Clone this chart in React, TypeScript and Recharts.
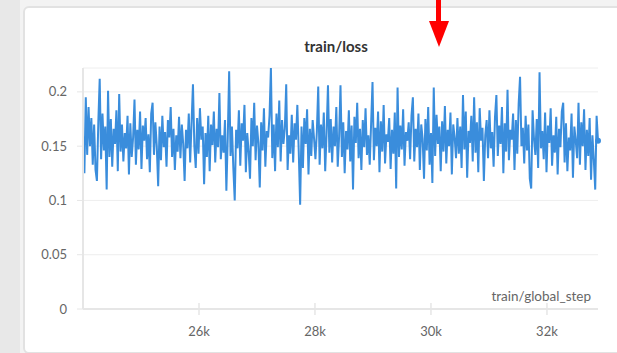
import React from 'react';
import { CartesianGrid, Line, LineChart, XAxis, YAxis } from 'recharts';

// logged every 24 steps starting at 24k
const startStep = 24000;
const stepSize = 24;

const lossValues = [
  0.160, 0.125, 0.195, 0.142, 0.186, 0.150, 0.176, 0.133, 0.170, 0.128,
  0.118, 0.172, 0.212, 0.138, 0.180, 0.146, 0.168, 0.110, 0.201, 0.140,
  0.175, 0.131, 0.166, 0.152, 0.183, 0.127, 0.198, 0.145, 0.170, 0.136,
  0.162, 0.148, 0.178, 0.124, 0.171, 0.140, 0.158, 0.193, 0.133, 0.165,
  0.147, 0.182, 0.129, 0.169, 0.155, 0.176, 0.138, 0.161, 0.126, 0.180,
  0.190, 0.142, 0.172, 0.150, 0.113, 0.168, 0.137, 0.178, 0.149, 0.163,
  0.131, 0.174, 0.158, 0.186, 0.140, 0.166, 0.128, 0.160, 0.145, 0.177,
  0.139, 0.170, 0.152, 0.118, 0.165, 0.148, 0.180, 0.135, 0.172, 0.207,
  0.150, 0.130, 0.176, 0.143, 0.185, 0.156, 0.168, 0.115, 0.162, 0.140,
  0.178, 0.127, 0.170, 0.151, 0.182, 0.135, 0.166, 0.149, 0.199, 0.138,
  0.160, 0.144, 0.174, 0.109, 0.158, 0.219, 0.141, 0.168, 0.130, 0.100,
  0.165, 0.148, 0.183, 0.132, 0.171, 0.155, 0.188, 0.126, 0.162, 0.145,
  0.120, 0.176, 0.150, 0.190, 0.137, 0.169, 0.153, 0.112, 0.172, 0.146,
  0.185, 0.131, 0.164, 0.158, 0.178, 0.222, 0.139, 0.170, 0.127, 0.180,
  0.149, 0.192, 0.136, 0.174, 0.152, 0.166, 0.207, 0.128, 0.160, 0.143,
  0.179, 0.135, 0.171, 0.156, 0.188, 0.145, 0.096, 0.168, 0.130, 0.176,
  0.152, 0.184, 0.124, 0.166, 0.141, 0.174, 0.157, 0.138, 0.163, 0.205,
  0.133, 0.170, 0.148, 0.181, 0.127, 0.162, 0.206, 0.144, 0.175, 0.135,
  0.168, 0.150, 0.186, 0.131, 0.159, 0.206, 0.140, 0.172, 0.125, 0.164,
  0.147, 0.183, 0.136, 0.169, 0.110, 0.177, 0.153, 0.190, 0.139, 0.166,
  0.128, 0.174, 0.149, 0.185, 0.142, 0.160, 0.133, 0.171, 0.209, 0.137,
  0.167, 0.150, 0.182, 0.126, 0.173, 0.145, 0.188, 0.134, 0.161, 0.154,
  0.176, 0.129, 0.165, 0.143, 0.181, 0.111, 0.204, 0.140, 0.169, 0.147,
  0.184, 0.132, 0.163, 0.155, 0.172, 0.138, 0.178, 0.195, 0.136, 0.166,
  0.149, 0.180, 0.128, 0.170, 0.157, 0.120, 0.175, 0.146, 0.186, 0.133,
  0.162, 0.116, 0.204, 0.141, 0.179, 0.152, 0.168, 0.127, 0.173, 0.145,
  0.187, 0.134, 0.165, 0.150, 0.181, 0.124, 0.170, 0.158, 0.139, 0.176,
  0.143, 0.168, 0.130, 0.197, 0.147, 0.182, 0.121, 0.164, 0.153, 0.178,
  0.136, 0.195, 0.144, 0.172, 0.126, 0.185, 0.155, 0.167, 0.118, 0.160,
  0.174, 0.139, 0.183, 0.148, 0.163, 0.131, 0.177, 0.197, 0.141, 0.169,
  0.152, 0.186, 0.125, 0.171, 0.145, 0.202, 0.137, 0.165, 0.156, 0.180,
  0.128, 0.174, 0.143, 0.189, 0.214, 0.150, 0.167, 0.134, 0.178, 0.146,
  0.170, 0.120, 0.111, 0.183, 0.157, 0.142, 0.175, 0.130, 0.218, 0.148,
  0.164, 0.138, 0.181, 0.126, 0.169, 0.153, 0.185, 0.132, 0.160, 0.144,
  0.177, 0.124, 0.166, 0.149, 0.182, 0.190, 0.135, 0.171, 0.127, 0.158,
  0.146, 0.180, 0.121, 0.168, 0.155, 0.139, 0.190, 0.133, 0.172, 0.150,
  0.184, 0.128, 0.165, 0.141, 0.176, 0.119, 0.160, 0.137, 0.110, 0.178, 0.155,
];

const xTicks = [26000, 28000, 30000, 32000];
const yTicks = [0, 0.05, 0.1, 0.15, 0.2];

const data = lossValues.map((loss, i) => ({ step: startStep + i * stepSize, loss }));
const lastStep = startStep + (lossValues.length - 1) * stepSize;

const font = 'Lato, "Noto Sans", sans-serif';
const axisColor = '#e6e6e6';
const lineColor = '#3a8ddc';

const StepTick = (props: any) => {
  const { x, y, payload } = props;
  return (
    <g>
      <line x1={x} x2={x} y1={y - 6} y2={y + 6} stroke={axisColor} strokeWidth={1.5} />
      <text x={x} y={y + 27} textAnchor="middle" fill="#666" fontSize={13} fontFamily={font}>
        {`${payload.value / 1000}k`}
      </text>
    </g>
  );
};

const LastDot = (props: any) => {
  const { cx, cy, index } = props;
  if (index !== lossValues.length - 1) return <g key={index} />;
  return <circle key={index} cx={cx} cy={cy} r={3} fill={lineColor} />;
};

export default function App() {
  return (
    <div
      style={{
        position: 'absolute',
        left: 0,
        top: 0,
        width: 617,
        height: 353,
        overflow: 'hidden',
        background: '#f3f3f3',
        fontFamily: font,
      }}
    >
      <div style={{ position: 'absolute', left: 0, top: 0, width: 20, height: 353, background: '#e8e8e8' }} />
      <div
        style={{
          position: 'absolute',
          left: 23,
          top: 6,
          width: 640,
          height: 344,
          background: '#fff',
          border: '2px solid #e2e2e2',
          borderRadius: 6,
        }}
      />
      <div
        style={{
          position: 'absolute',
          left: 236,
          top: 37,
          width: 200,
          textAlign: 'center',
          fontSize: 15,
          fontWeight: 700,
          color: '#333',
        }}
      >
        train/loss
      </div>
      <div style={{ position: 'absolute', left: 0, top: 0 }}>
        <LineChart width={617} height={353} data={data} margin={{ top: 68, right: 19, bottom: 14, left: 0 }}>
          <CartesianGrid vertical={false} stroke="#eeeeee" />
          <XAxis
            dataKey="step"
            type="number"
            domain={[startStep, lastStep]}
            ticks={xTicks}
            tick={<StepTick />}
            tickLine={false}
            tickSize={0}
            tickMargin={0}
            height={30}
            axisLine={{ stroke: axisColor, strokeWidth: 2 }}
          />
          <YAxis
            type="number"
            domain={[0, 0.222]}
            ticks={yTicks}
            width={83}
            tickSize={6}
            tickMargin={10}
            tickLine={{ stroke: axisColor }}
            axisLine={{ stroke: axisColor, strokeWidth: 2 }}
            tick={{ fill: '#666', fontSize: 13, fontFamily: font }}
          />
          <Line
            type="linear"
            dataKey="loss"
            stroke={lineColor}
            strokeWidth={2}
            dot={<LastDot />}
            activeDot={false}
            isAnimationActive={false}
          />
        </LineChart>
      </div>
      <div
        style={{
          position: 'absolute',
          right: 26,
          top: 288,
          fontSize: 13.5,
          color: '#666',
        }}
      >
        train/global_step
      </div>
      <svg style={{ position: 'absolute', left: 0, top: 0 }} width={617} height={60}>
        <rect x={436} y={0} width={5} height={23} fill="#ff0000" />
        <polygon points="429,21 449,21 439,47" fill="#ff0000" />
      </svg>
    </div>
  );
}
